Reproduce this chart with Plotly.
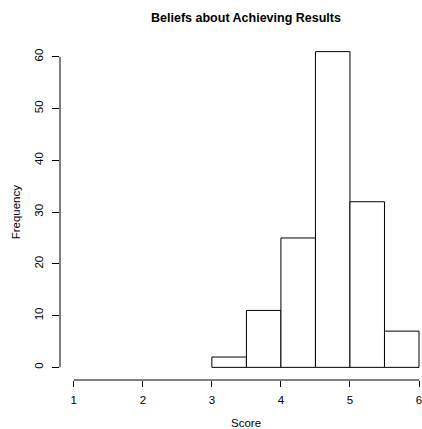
import plotly.graph_objects as go

# Histogram bins (left edges, width 0.5) and counts
bin_left = [3.0, 3.5, 4.0, 4.5, 5.0, 5.5]
bin_width = 0.5
counts = [2, 11, 25, 61, 32, 7]

x_ticks = [1, 2, 3, 4, 5, 6]
y_ticks = [0, 10, 20, 30, 40, 50, 60]

title_text = "Beliefs about Achieving Results"
x_label = "Score"
y_label = "Frequency"

W, H = 422, 429
font_family = "Liberation Sans, Arial, Helvetica, sans-serif"

centers = [b + bin_width / 2 for b in bin_left]

fig = go.Figure(
    go.Bar(
        x=centers,
        y=counts,
        width=[bin_width] * len(counts),
        marker=dict(color="white", line=dict(color="black", width=1)),
        hoverinfo="x+y",
    )
)

# R-style axes: lines span only the tick range, offset from the bars
shapes = [
    dict(type="line", xref="x", yref="paper", x0=x_ticks[0], x1=x_ticks[-1],
         y0=0, y1=0, line=dict(color="black", width=1)),
    dict(type="line", xref="paper", yref="y", x0=0, x1=0,
         y0=y_ticks[0], y1=y_ticks[-1], line=dict(color="black", width=1)),
]

plot_h = H - 39.2 - 49.4

fig.update_layout(
    width=W,
    height=H,
    paper_bgcolor="white",
    plot_bgcolor="white",
    showlegend=False,
    margin=dict(l=59.5, r=0, t=39.2, b=49.4, autoexpand=False),
    font=dict(family=font_family, size=11.5, color="black"),
    title=dict(
        text=f"<b>{title_text}</b>",
        x=246 / W, xref="container", xanchor="center",
        y=1 - 18 / H, yref="container", yanchor="middle",
        font=dict(size=12.5, family=font_family, color="black"),
    ),
    xaxis=dict(
        range=[0.8, 6.0434],
        tickmode="array", tickvals=x_ticks, ticktext=[str(v) for v in x_ticks],
        ticks="outside", ticklen=6, tickwidth=1, tickcolor="black",
        showgrid=False, zeroline=False, showline=False,
        ticklabelstandoff=3, ticklabeloverflow="allow",
    ),
    yaxis=dict(
        range=[-2.44, 63.44],
        tickmode="array", tickvals=y_ticks, ticktext=[str(v) for v in y_ticks],
        ticks="outside", ticklen=7, tickwidth=1, tickcolor="black",
        tickangle=-90,
        showgrid=False, zeroline=False, showline=False,
        ticklabelstandoff=4, ticklabeloverflow="allow",
    ),
    shapes=shapes,
    annotations=[
        dict(text=x_label, xref="paper", yref="paper",
             x=(246 - 59.5) / (W - 59.5), y=-(422.5 - 379.6) / plot_h,
             xanchor="center", yanchor="middle", showarrow=False,
             font=dict(size=11.5, family=font_family)),
        dict(text=y_label, xref="paper", yref="paper",
             x=-(59.5 - 15.7) / (W - 59.5), y=1 - (212 - 39.2) / plot_h,
             xanchor="center", yanchor="middle", showarrow=False, textangle=-90,
             font=dict(size=11.5, family=font_family)),
    ],
)

fig.write_html("out.html")
